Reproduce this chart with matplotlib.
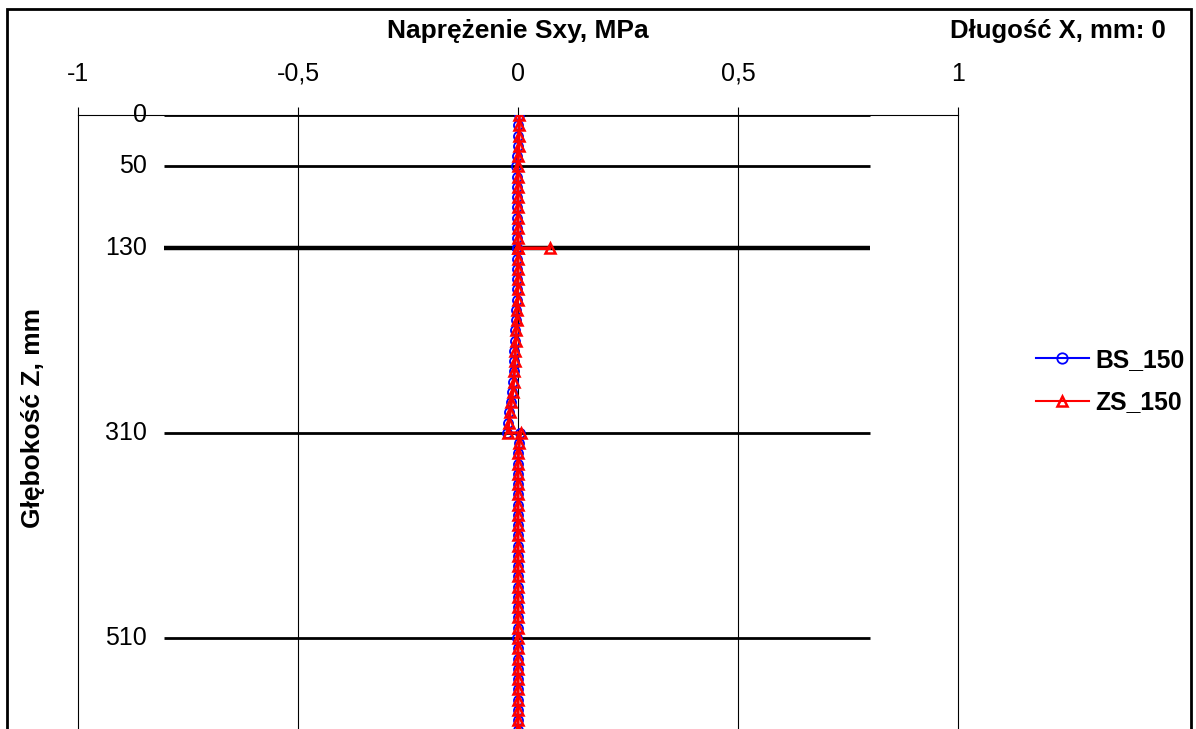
import matplotlib
matplotlib.use("Agg")
import matplotlib.pyplot as plt
from matplotlib.patches import Rectangle

plt.rcParams['font.family'] = ['Liberation Sans', 'DejaVu Sans']

# depth points, mm (repeated depths give the jumps at layer boundaries)
depth = [0, 10, 20, 30, 40, 50, 60, 70, 80, 90, 100, 110, 120, 130, 130, 130,
         140, 150, 160, 170, 180, 190, 200, 210, 220, 230, 240, 250, 260,
         270, 280, 290, 300, 310, 310, 320, 330, 340, 350, 360, 370, 380,
         390, 400, 410, 420, 430, 440, 450, 460, 470, 480, 490, 500, 510,
         520, 530, 540, 550, 560, 570, 580, 590, 600]

bs_150 = [0.002, 0.001, 0.0, -0.001, -0.003, -0.005, -0.003, -0.002, -0.002,
          -0.002, -0.002, -0.002, -0.002, -0.002, -0.002, -0.002, -0.002,
          -0.002, -0.002, -0.003, -0.003, -0.004, -0.005, -0.006, -0.007,
          -0.008, -0.009, -0.010, -0.012, -0.014, -0.017, -0.020, -0.023,
          -0.024, 0.004, 0.002, 0.0, -0.001, -0.001, -0.001, -0.001, -0.001,
          -0.001, -0.001, -0.001, -0.001, -0.001, -0.001, -0.001, -0.001,
          -0.001, -0.001, -0.001, -0.001, -0.002, -0.001, -0.001, -0.001,
          -0.001, -0.001, -0.001, -0.001, -0.001, -0.001]

zs_150 = [0.003, 0.003, 0.002, 0.002, 0.001, -0.001, 0.0, 0.0, 0.0, 0.0,
          0.0, 0.0, 0.0, 0.0, 0.072, 0.0, 0.0, 0.0, 0.0, -0.001, -0.001,
          -0.002, -0.003, -0.004, -0.005, -0.006, -0.007, -0.008, -0.010,
          -0.012, -0.015, -0.018, -0.021, -0.023, 0.006, 0.003, 0.001, 0.0,
          0.0, 0.0, 0.0, 0.0, 0.0, 0.0, 0.0, 0.0, 0.0, 0.0, 0.0, 0.0, 0.0,
          0.0, 0.0, 0.0, 0.0, 0.0, 0.0, 0.0, 0.0, 0.0, 0.0, 0.0, 0.0, 0.0]

# layer boundaries
layers = [0, 50, 130, 310, 510]
layer_x = [-0.805, 0.80]

x_ticks = [-1, -0.5, 0, 0.5, 1]
x_labels = ['-1', '-0,5', '0', '0,5', '1']

fig = plt.figure(figsize=(11.96, 7.29), dpi=100)
ax = fig.add_axes([78 / 1196, 0, 880 / 1196, 614 / 729])

ax.set_xlim(-1, 1)
ax.set_ylim(614 / 1.0255, 0)

for x in [-0.5, 0, 0.5]:
    ax.axvline(x, color='black', lw=0.8, zorder=1)

for d in layers:
    ax.plot(layer_x, [d, d], color='black', lw=3.2 if d == 130 else 2.0,
            solid_capstyle='butt', zorder=2)
    ax.text(-0.843, d, str(d), ha='right', va='center', fontsize=18)

ax.plot(bs_150, depth, color='#0000ff', lw=1, marker='o', ms=6.5,
        mfc='none', mec='#0000ff', mew=1.3, label='BS_150', zorder=3)
ax.plot(zs_150, depth, color='#ff0000', lw=2.2, marker='^', ms=7.5,
        mfc='none', mec='#ff0000', mew=1.8, label='ZS_150', zorder=4)

ax.xaxis.tick_top()
ax.set_xticks(x_ticks)
ax.set_xticklabels(x_labels, fontsize=18)
ax.tick_params(axis='x', direction='out', length=6, width=0.8, pad=15)
ax.set_yticks([])
ax.spines['bottom'].set_visible(False)
for s in ['top', 'left', 'right']:
    ax.spines[s].set_linewidth(0.8)

fig.text(518 / 1196, 1 - 31 / 729, 'Naprężenie Sxy, MPa', ha='center',
         va='center', fontsize=19, fontweight='bold')
fig.text(1166 / 1196, 1 - 31 / 729, 'Długość X, mm: 0', ha='right',
         va='center', fontsize=18.5, fontweight='bold')
fig.text(33 / 1196, 1 - 418 / 729, 'Głębokość Z, mm', ha='center',
         va='center', rotation=90, fontsize=19, fontweight='bold')

leg = fig.legend(loc='center left', bbox_to_anchor=(1026 / 1196, 1 - 381 / 729),
                 frameon=False, handlelength=2.15, handletextpad=0.25,
                 borderaxespad=0, labelspacing=0.75,
                 prop={'size': 17.8, 'weight': 'bold'})
for h in leg.get_lines():
    h.set_linewidth(1.5)
    h.set_markersize(7.5)

# chart frame
fig.patches.append(Rectangle((7 / 1196, -0.1), 1184 / 1196, 1.1 - 9 / 729,
                             transform=fig.transFigure, fill=False,
                             edgecolor='black', lw=2))

fig.savefig('out.png', dpi=100)
